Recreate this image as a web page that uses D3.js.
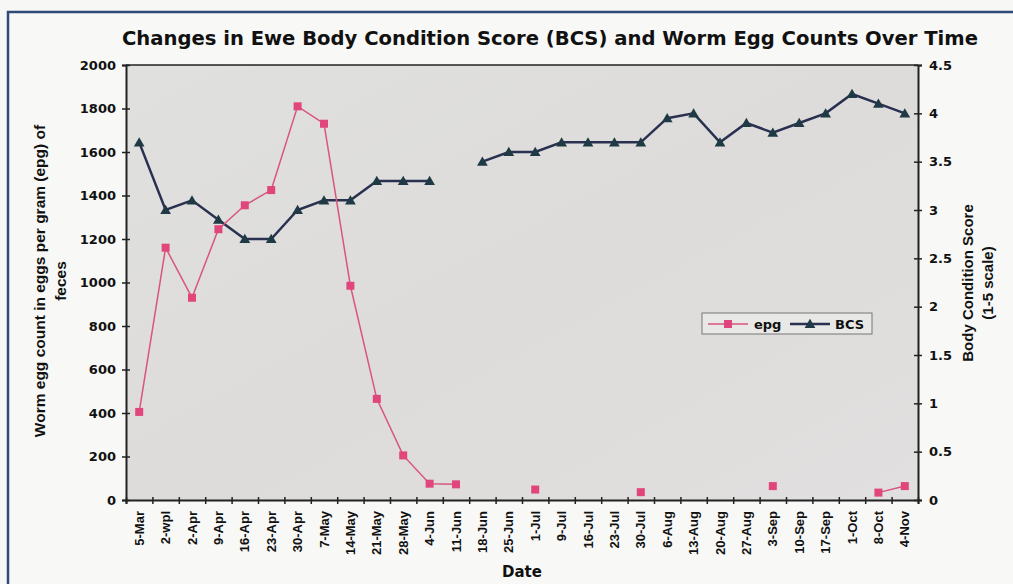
<!DOCTYPE html>
<html>
<head>
<meta charset="utf-8">
<script src="https://cdn.jsdelivr.net/npm/d3@7"></script>
<style>
  body { margin: 0; background: #f7f7f5; }
  text { fill: #111; }
</style>
</head>
<body>
<div class="container"></div>
<script>
  // categories and series
  var dates = ["5-Mar", "2-wpl", "2-Apr", "9-Apr", "16-Apr", "23-Apr", "30-Apr", "7-May", "14-May", "21-May",
    "28-May", "4-Jun", "11-Jun", "18-Jun", "25-Jun", "1-Jul", "9-Jul", "16-Jul", "23-Jul", "30-Jul",
    "6-Aug", "13-Aug", "20-Aug", "27-Aug", "3-Sep", "10-Sep", "17-Sep", "1-Oct", "8-Oct", "4-Nov"];
  var epg = [405, 1160, 930, 1245, 1355, 1425, 1810, 1730, 985, 465,
    205, 75, 72, null, null, 48, null, null, null, 36,
    null, null, null, null, 64, null, null, null, 34, 64];
  var bcs = [3.7, 3.0, 3.1, 2.9, 2.7, 2.7, 3.0, 3.1, 3.1, 3.3,
    3.3, 3.3, null, 3.5, 3.6, 3.6, 3.7, 3.7, 3.7, 3.7,
    3.95, 4.0, 3.7, 3.9, 3.8, 3.9, 4.0, 4.2, 4.1, 4.0];
  var leftTicks = [0, 200, 400, 600, 800, 1000, 1200, 1400, 1600, 1800, 2000];
  var rightTicks = [0, 0.5, 1, 1.5, 2, 2.5, 3, 3.5, 4, 4.5];

  var w = 1013, h = 584;
  // plot box
  var pLeft = 126, pRight = 918, pTop = 65, pBottom = 500;

  var svg = d3.select(".container").append("svg").attr("width", w).attr("height", h);

  // frame
  svg.append("rect").attr("x", 8).attr("y", 12).attr("width", w).attr("height", h)
    .attr("fill", "#f8f8f6").attr("stroke", "#2d4a78").attr("stroke-width", 2.5);

  // plot background
  var grad = svg.append("defs").append("linearGradient").attr("id", "bg")
    .attr("x1", 0).attr("y1", 0).attr("x2", 1).attr("y2", 1);
  grad.append("stop").attr("offset", "0%").attr("stop-color", "#e0e0de");
  grad.append("stop").attr("offset", "50%").attr("stop-color", "#dddcda");
  grad.append("stop").attr("offset", "100%").attr("stop-color", "#e1dfdf");
  svg.append("rect").attr("x", pLeft).attr("y", pTop).attr("width", pRight - pLeft).attr("height", pBottom - pTop)
    .attr("fill", "url(#bg)");
  svg.append("line").attr("x1", pLeft).attr("x2", pRight).attr("y1", pTop).attr("y2", pTop)
    .attr("stroke", "#222").attr("stroke-width", 1.5);

  // scales
  var x = d3.scaleBand().domain(dates).range([pLeft, pRight]);
  var xTick = d3.scaleLinear().domain([0, dates.length]).range([pLeft, pRight]);
  var yL = d3.scaleLinear().domain([0, 2000]).range([pBottom, pTop]);
  var yR = d3.scaleLinear().domain([0, 4.5]).range([pBottom, pTop]);

  // left axis
  var gl = svg.append("g").attr("transform", "translate(" + pLeft + ",0)")
    .call(d3.axisLeft(yL).tickValues(leftTicks).tickSize(4).tickPadding(6).tickFormat(d3.format("")));
  gl.selectAll("line").attr("x1", 4);
  // right axis
  var gr = svg.append("g").attr("transform", "translate(" + pRight + ",0)")
    .call(d3.axisRight(yR).tickValues(rightTicks).tickSize(4).tickPadding(7).tickFormat(d3.format("")));
  gr.selectAll("line").attr("x1", -4);
  // x axis ticks between categories
  var gx = svg.append("g").attr("transform", "translate(0," + pBottom + ")")
    .call(d3.axisBottom(xTick).tickValues(d3.range(dates.length + 1)).tickSize(4).tickFormat(""));
  gx.selectAll("line").attr("y1", -3);
  var gxl = svg.append("g").attr("transform", "translate(0," + pBottom + ")")
    .call(d3.axisBottom(x).tickSize(0));
  gxl.select(".domain").remove();
  gxl.selectAll("text")
    .attr("transform", "rotate(-90)")
    .attr("x", -11).attr("y", 0).attr("dy", "0.35em")
    .style("text-anchor", "end")
    .style("font", "bold 13px 'Liberation Sans', Arial, sans-serif");

  [gl, gr, gx].forEach(function(g){
    g.select(".domain").attr("stroke", "#222").attr("stroke-width", 2);
    g.selectAll(".tick line").attr("stroke", "#222").attr("stroke-width", 1.5);
  });
  gl.selectAll("text").style("font", "bold 13px 'DejaVu Sans', sans-serif").attr("fill", "#111");
  gr.selectAll("text").style("font", "bold 13px 'DejaVu Sans', sans-serif").attr("fill", "#111");

  // lines
  var lineEpg = d3.line().defined(function(d){ return d != null; })
    .x(function(d, i){ return x(dates[i]) + x.bandwidth() / 2; })
    .y(function(d){ return yL(d); });
  var lineBcs = d3.line().defined(function(d){ return d != null; })
    .x(function(d, i){ return x(dates[i]) + x.bandwidth() / 2; })
    .y(function(d){ return yR(d); });

  svg.append("path").datum(bcs).attr("d", lineBcs)
    .attr("fill", "none").attr("stroke", "#2a3150").attr("stroke-width", 2.5);
  svg.append("path").datum(epg).attr("d", lineEpg)
    .attr("fill", "none").attr("stroke", "#d9557c").attr("stroke-width", 1.5);

  var tri = d3.symbol().type(d3.symbolTriangle).size(50);
  svg.append("g").selectAll("path").data(bcs.map(function(v, i){ return {v: v, d: dates[i]}; })
      .filter(function(p){ return p.v != null; }))
    .enter().append("path")
    .attr("d", tri)
    .attr("transform", function(p){ return "translate(" + (x(p.d) + x.bandwidth() / 2) + "," + (yR(p.v) + 1) + ")"; })
    .attr("fill", "#1f3a44");

  svg.append("g").selectAll("rect").data(epg.map(function(v, i){ return {v: v, d: dates[i]}; })
      .filter(function(p){ return p.v != null; }))
    .enter().append("rect")
    .attr("x", function(p){ return x(p.d) + x.bandwidth() / 2 - 4; })
    .attr("y", function(p){ return yL(p.v) - 4; })
    .attr("width", 8).attr("height", 8)
    .attr("fill", "#e0467c");

  // legend
  var lg = svg.append("g").attr("transform", "translate(702,313)");
  lg.append("rect").attr("width", 170).attr("height", 21)
    .attr("fill", "#e8e8e6").attr("stroke", "#777").attr("stroke-width", 1);
  lg.append("line").attr("x1", 6).attr("x2", 46).attr("y1", 11).attr("y2", 11)
    .attr("stroke", "#d9557c").attr("stroke-width", 1.5);
  lg.append("rect").attr("x", 22).attr("y", 7).attr("width", 8).attr("height", 8).attr("fill", "#e0467c");
  lg.append("text").attr("x", 52).attr("y", 15.5).text("epg")
    .style("font", "bold 13px 'DejaVu Sans', sans-serif");
  lg.append("line").attr("x1", 88).attr("x2", 128).attr("y1", 11).attr("y2", 11)
    .attr("stroke", "#2a3150").attr("stroke-width", 2.5);
  lg.append("path").attr("d", tri).attr("transform", "translate(108,12)").attr("fill", "#1f3a44");
  lg.append("text").attr("x", 133).attr("y", 15.5).text("BCS")
    .style("font", "bold 13px 'DejaVu Sans', sans-serif");

  // title
  svg.append("text").attr("x", 550).attr("y", 45).attr("text-anchor", "middle")
    .attr("textLength", 856).attr("lengthAdjust", "spacingAndGlyphs")
    .style("font", "bold 19px 'DejaVu Sans', sans-serif")
    .text("Changes in Ewe Body Condition Score (BCS) and Worm Egg Counts Over Time");

  // axis titles
  var lt = svg.append("text").attr("transform", "translate(45,281) rotate(-90)")
    .attr("text-anchor", "middle").style("font", "bold 15.5px 'Liberation Sans', Arial, sans-serif");
  lt.append("tspan").attr("x", 0).attr("y", 0).text("Worm egg count in eggs per gram (epg) of");
  lt.append("tspan").attr("x", 0).attr("y", 21).text("feces");

  var rt = svg.append("text").attr("transform", "translate(973,283) rotate(-90)")
    .attr("text-anchor", "middle").style("font", "bold 15px 'Liberation Sans', Arial, sans-serif");
  rt.append("tspan").attr("x", 0).attr("y", 0).text("Body Condition Score");
  rt.append("tspan").attr("x", 0).attr("y", 20).text("(1-5 scale)");

  svg.append("text").attr("x", 522).attr("y", 577).attr("text-anchor", "middle")
    .style("font", "bold 15px 'DejaVu Sans', sans-serif").text("Date");
</script>
</body>
</html>
